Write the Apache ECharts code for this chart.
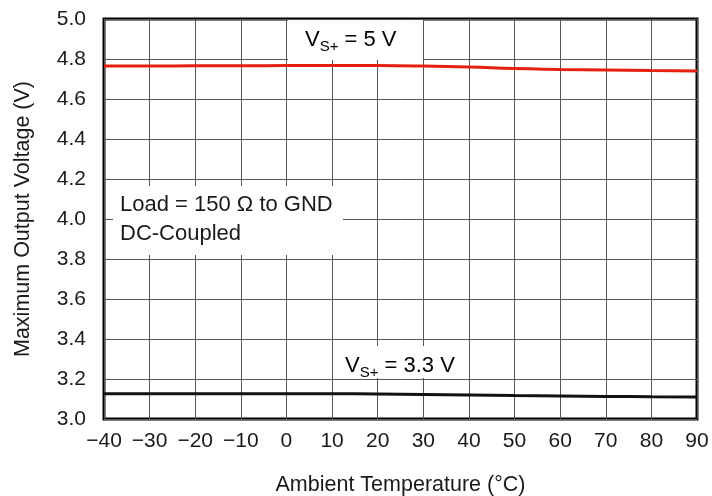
<!DOCTYPE html>
<html>
<head>
<meta charset="utf-8">
<script src="https://cdn.jsdelivr.net/npm/echarts@6/dist/echarts.min.js"></script>
<style>
  html, body { margin: 0; padding: 0; background: #fff; }
  #chart { width: 712px; height: 496px; }
</style>
</head>
<body>
<div id="chart"></div>
<script>
// Ambient temperature sweep (°C)
const temps = [-40, -30, -20, -10, 0, 10, 20, 30, 40, 50, 60, 70, 80, 90];
// Maximum output voltage at VS+ = 5 V
const vout5 = [4.765, 4.765, 4.766, 4.766, 4.767, 4.767, 4.767, 4.765, 4.76, 4.752, 4.748, 4.745, 4.742, 4.740];
// Maximum output voltage at VS+ = 3.3 V
const vout33 = [3.126, 3.126, 3.126, 3.126, 3.126, 3.126, 3.125, 3.123, 3.120, 3.117, 3.115, 3.113, 3.111, 3.110];

const FONT = '"Liberation Sans", Arial, Helvetica, sans-serif';
const minus = v => String(v).replace('-', '\u2212');

const chart = echarts.init(document.getElementById('chart'), null, { renderer: 'canvas' });

const subRich = {
  v: { fontFamily: FONT, fontSize: 22, color: '#1a1a1a' },
  s: { fontFamily: FONT, fontSize: 15, color: '#1a1a1a', padding: [13, 0, 0, 0] }
};

chart.setOption({
  animation: false,
  backgroundColor: '#fff',
  grid: {
    left: 104, top: 19, width: 593, height: 400,
    outerBoundsMode: 'none', containLabel: false,
    show: true, borderColor: '#000', borderWidth: 3, backgroundColor: 'transparent'
  },
  xAxis: {
    type: 'value', min: -40, max: 90, interval: 10,
    name: 'Ambient Temperature (°C)', nameLocation: 'middle', nameGap: 55,
    nameTextStyle: { fontFamily: FONT, fontSize: 21.5, color: '#1a1a1a' },
    axisLine: { show: false }, axisTick: { show: false },
    axisLabel: { margin: 12, fontFamily: FONT, fontSize: 21, color: '#1a1a1a', formatter: minus },
    splitLine: { show: true, lineStyle: { color: '#555', width: 1 } }
  },
  yAxis: {
    type: 'value', min: 3.0, max: 5.0, interval: 0.2,
    name: 'Maximum Output Voltage (V)', nameLocation: 'middle', nameGap: 70,
    nameTextStyle: { fontFamily: FONT, fontSize: 21.5, color: '#1a1a1a' },
    axisLine: { show: false }, axisTick: { show: false },
    axisLabel: { margin: 18, fontFamily: FONT, fontSize: 21, color: '#1a1a1a', formatter: v => v.toFixed(1) },
    splitLine: { show: true, lineStyle: { color: '#555', width: 1 } }
  },
  series: [
    {
      type: 'line', name: 'VS+ = 5 V', z: 3,
      data: temps.map((t, i) => [t, vout5[i]]),
      showSymbol: false, smooth: true,
      lineStyle: { color: '#e5200e', width: 3 }
    },
    {
      type: 'line', name: 'VS+ = 3.3 V', z: 3,
      data: temps.map((t, i) => [t, vout33[i]]),
      showSymbol: false, smooth: true,
      lineStyle: { color: '#111', width: 3 }
    }
  ],
  graphic: [
    // VS+ = 5 V label
    { type: 'rect', z: 10, shape: { x: 288, y: 20, width: 135, height: 40 }, style: { fill: '#fff' } },
    { type: 'text', z: 11, left: 305, top: 29,
      style: { text: '{v|V}{s|S+}{v| = 5 V}', rich: subRich } },
    // VS+ = 3.3 V label
    { type: 'rect', z: 10, shape: { x: 334, y: 346, width: 131, height: 32 }, style: { fill: '#fff' } },
    { type: 'text', z: 11, left: 345, top: 355,
      style: { text: '{v|V}{s|S+}{v| = 3.3 V}', rich: subRich } },
    // Test conditions
    { type: 'rect', z: 10, shape: { x: 113, y: 186, width: 230, height: 69 }, style: { fill: '#fff' } },
    { type: 'text', z: 11, left: 120, top: 190,
      style: { text: 'Load = 150 \u03A9 to GND\nDC-Coupled', fontFamily: FONT, fontSize: 22, lineHeight: 29, fill: '#1a1a1a' } }
  ]
});
</script>
</body>
</html>
